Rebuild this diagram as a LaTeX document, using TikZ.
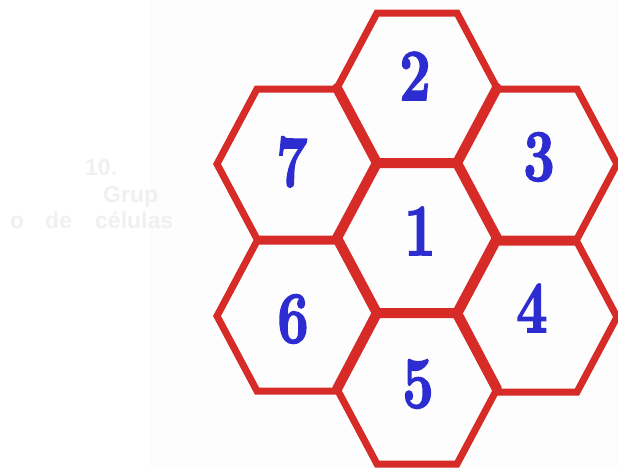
\documentclass[tikz,border=0pt]{standalone}
\usepackage{fontspec}
\newfontfamily\faintfont{Liberation Sans}
\newfontfamily\numfont[FakeBold=2.5]{Latin Modern Roman}
\definecolor{hexred}{HTML}{D62B27}
\definecolor{numblue}{HTML}{2C2CD0}
\definecolor{faintgray}{HTML}{F0F0F0}
\definecolor{bgpale}{HTML}{FDFDFD}
\tikzset{
  hexline/.style={draw=hexred, line width=7pt, line join=miter},
  sharededge/.style={draw=hexred, line width=10pt, line cap=round},
  hexcell/.pic={\draw[hexline] (-80,0) -- (-40,75) -- (40,75) -- (80,0) -- (40,-75) -- (-40,-75) -- cycle;},
  numtext/.style={text=numblue, inner sep=0pt, font=\numfont\bfseries\fontsize{73}{73}\selectfont},
  fainttext/.style={text=faintgray, inner sep=0pt, anchor=base west, font=\faintfont\fontsize{23}{23}\selectfont\bfseries}
}
\newcommand{\narrow}[1]{\scalebox{0.76}[1]{#1}}
\begin{document}
\begin{tikzpicture}[x=1pt, y=-1pt]
\useasboundingbox (0,0) rectangle (618,469);
\fill[bgpale] (150,0) rectangle (618,469);
% faint caption
\node[fainttext] (t1) at (85,175) {10.};
\node[fainttext] (t2) at (103,202) {Grup};
\node[fainttext] (t3) at (10,228) {o};
\node[fainttext] (t4) at (45,228) {de};
\node[fainttext] (t5) at (95,228) {células};
% hexagons
\pic at (417,88) {hexcell};
\pic at (297,164) {hexcell};
\pic at (537,164) {hexcell};
\pic at (417,238) {hexcell};
\pic at (297,316) {hexcell};
\pic at (537,317) {hexcell};
\pic at (417,389) {hexcell};
% thicker shared walls
\draw[sharededge] (337,238) -- (377,163) -- (457,163) -- (497,238) -- (457,313) -- (377,313) -- cycle;
\draw[sharededge] (337,88) -- (377,163);
\draw[sharededge] (457,163) -- (497,88);
\draw[sharededge] (337,389) -- (377,313);
\draw[sharededge] (457,313) -- (497,389);
% numbers
\node[numtext] (n1) at (420,231) {\narrow{1}};
\node[numtext] (n2) at (415,76) {\narrow{2}};
\node[numtext] (n3) at (539,157) {\narrow{3}};
\node[numtext] (n4) at (532,308) {\narrow{4}};
\node[numtext] (n5) at (418,384) {\narrow{5}};
\node[numtext] (n6) at (293,319) {\narrow{6}};
\node[numtext] (n7) at (292,162) {\narrow{7}};
\end{tikzpicture}
\end{document}
